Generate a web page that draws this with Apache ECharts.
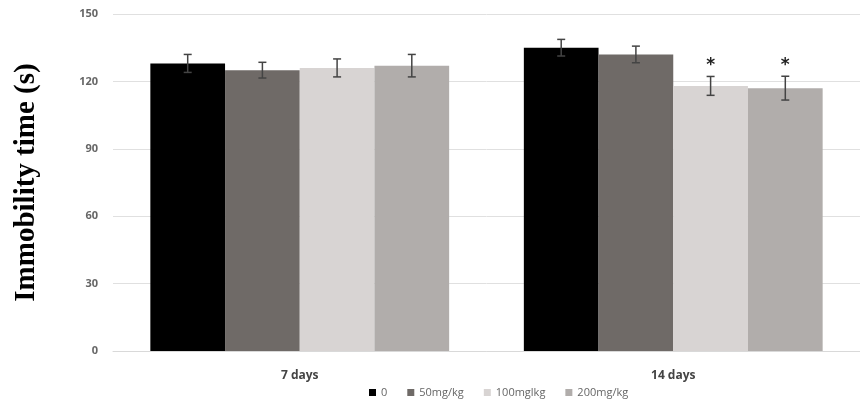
<!DOCTYPE html>
<html>
<head>
<meta charset="utf-8">
<script src="https://cdn.jsdelivr.net/npm/echarts@6/dist/echarts.min.js"></script>
<style>
  html, body { margin: 0; padding: 0; background: #fff; }
  #chart { width: 860px; height: 407px; }
</style>
</head>
<body>
<div id="chart"></div>
<script>
// data
var groups = ['7 days', '14 days'];
var doses = ['0', '50mg/kg', '100mglkg', '200mg/kg'];
var colors = ['#000000', '#6f6a67', '#d8d4d3', '#b1adab'];
var means = [
    [128, 135],
    [125, 132],
    [126, 118],
    [127, 117]
];
var errors = [
    [4, 3.7],
    [3.5, 3.7],
    [4, 4.2],
    [5, 5.3]
];
var stars = [
    ['', ''],
    ['', ''],
    ['', '*'],
    ['', '*']
];
var yTicks = [0, 30, 60, 90, 120, 150];

var chart = echarts.init(document.getElementById('chart'));

var series = [];
doses.forEach(function (name, i) {
    series.push({
        name: name,
        type: 'bar',
        data: means[i],
        barGap: '0%',
        barCategoryGap: '20%',
        itemStyle: { color: colors[i] },
        z: 2
    });
});

// error bars + significance stars
doses.forEach(function (name, i) {
    var rows = means[i].map(function (m, j) {
        return [j, m - errors[i][j], m + errors[i][j], stars[i][j]];
    });
    series.push({
        type: 'custom',
        name: name + ' err',
        data: rows,
        z: 5,
        renderItem: function (params, api) {
            var cat = api.value(0);
            var lo = api.coord([cat, api.value(1)]);
            var hi = api.coord([cat, api.value(2)]);
            var catW = api.size([1, 0])[0];
            var barW = catW * 0.8 / 4;
            var x = lo[0] + (i - 1.5) * barW;
            var cap = 4;
            var st = { stroke: '#444', lineWidth: 1.5 };
            var children = [
                { type: 'line', shape: { x1: x, y1: lo[1], x2: x, y2: hi[1] }, style: st },
                { type: 'line', shape: { x1: x - cap, y1: lo[1], x2: x + cap, y2: lo[1] }, style: st },
                { type: 'line', shape: { x1: x - cap, y1: hi[1], x2: x + cap, y2: hi[1] }, style: st }
            ];
            var s = rows[params.dataIndex][3];
            if (s) {
                children.push({
                    type: 'text',
                    style: {
                        text: s, x: x, y: hi[1] - 2,
                        align: 'center', verticalAlign: 'bottom',
                        font: 'bold 17px "DejaVu Sans"', fill: '#222'
                    }
                });
            }
            return { type: 'group', children: children };
        }
    });
});

chart.setOption({
    animation: false,
    grid: { left: 113, right: 0, top: 14, bottom: 56 },
    legend: {
        data: doses,
        left: 364,
        bottom: 4,
        itemWidth: 7,
        itemHeight: 7,
        itemGap: 20,
        icon: 'rect',
        textStyle: { fontSize: 11, color: '#666', fontFamily: 'Open Sans' }
    },
    xAxis: {
        type: 'category',
        data: groups,
        axisLine: { lineStyle: { color: '#d9d9d9' } },
        axisTick: { show: false },
        axisLabel: { color: '#444', fontWeight: 'bold', fontSize: 12, margin: 19, fontFamily: 'Open Sans' }
    },
    yAxis: {
        type: 'value',
        min: 0,
        max: 150,
        interval: 30,
        name: 'Immobility time (s)',
        nameLocation: 'middle',
        nameGap: 72,
        nameTextStyle: {
            fontFamily: '"Liberation Serif", serif',
            fontWeight: 'bold',
            fontSize: 29,
            color: '#000'
        },
        axisLine: { show: false },
        axisTick: { show: false },
        axisLabel: {
            color: '#666', fontWeight: 'bold', fontSize: 11, margin: 15, fontFamily: 'Open Sans',
            formatter: function (v) { return yTicks.indexOf(v) >= 0 ? String(v) : ''; }
        },
        splitLine: { lineStyle: { color: '#e0e0e0' } }
    },
    series: series
});
</script>
</body>
</html>
